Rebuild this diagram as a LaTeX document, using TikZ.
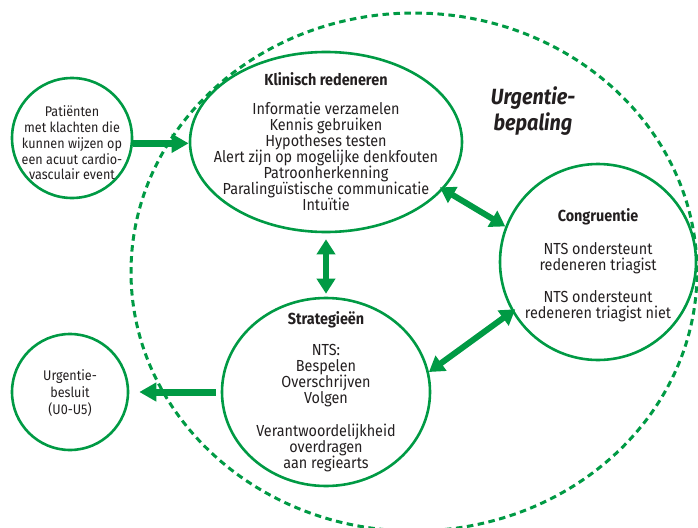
\documentclass[tikz,border=0pt]{standalone}
\usepackage{fontspec}
\setmainfont{Fira Sans}[FakeStretch=0.9]
\usepackage{tikz}
\usetikzlibrary{shapes.geometric}
\usetikzlibrary{arrows.meta}
\definecolor{boxgreen}{HTML}{009A44}
\definecolor{boxtext}{HTML}{231F20}

\begin{document}
\begin{tikzpicture}[x=1pt, y=-1pt,
every node/.style = {align=center, text=boxtext, inner sep=0pt,
  font=\fontsize{16}{16}\selectfont},
bubble/.style = {shape=ellipse, draw=boxgreen, line width=2.6pt},
region/.style = {shape=ellipse, draw=boxgreen, line width=3pt,
  dash pattern=on 6.5pt off 4.5pt, minimum width=566pt, minimum height=518pt},
oneway/.style = {draw=boxgreen, line width=7pt,
  -{Triangle[length=17pt, width=18pt]}},
twoway/.style = {draw=boxgreen, line width=6pt,
  {Triangle[length=15pt, width=18pt]}-{Triangle[length=15pt, width=18pt]}},
small/.style = {font=\fontsize{14}{15.75}\selectfont},
smaller/.style = {font=\fontsize{14}{17}\selectfont},
heading/.style = {font=\bfseries\itshape\fontsize{22}{26}\selectfont}
]
\useasboundingbox (0,0) rectangle (698,527);
\clip (0,0) rectangle (698,527);

\node (bepaling) [region] at (414,272) {};
\node (bepalingtext) [heading] at (533,111) {Urgentie-\\bepaling};

\node (pat) [bubble, minimum width=120pt, minimum height=120pt] at (72,138) {};
\node (urg) [bubble, minimum width=116pt, minimum height=116pt] at (70,392) {};
\node (klin) [bubble, minimum width=272pt, minimum height=180pt] at (326,142) {};
\node (strat) [bubble, minimum width=208pt, minimum height=188pt] at (326,392) {};
\node (congr) [bubble, minimum width=196pt, minimum height=196pt] at (598,262) {};

\node (pattext) [small] at (72,143) {Patiënten\\met klachten die\\kunnen wijzen op\\een acuut cardio-\\vasculair event};
\node (urgtext) [smaller] at (70,393) {Urgentie-\\besluit\\(U0-U5)};
\node (klintext) at (klin) {\textbf{Klinisch redeneren}\\[13pt]Informatie verzamelen\\Kennis gebruiken\\Hypotheses testen\\Alert zijn op mogelijke denkfouten\\Patroonherkenning\\Paralinguïstische communicatie\\Intuïtie};
\node (strattext) at (326,392) {\textbf{Strategieën}\\[15pt]NTS:\\Bespelen\\Overschrijven\\Volgen\\[17pt]Verantwoordelijkheid\\overdragen\\aan regiearts};
\node (congrtext) at (598,265) {\textbf{Congruentie}\\[17pt]NTS ondersteunt\\redeneren triagist\\[16pt]NTS ondersteunt\\redeneren triagist niet};

\draw[oneway] (pat.-5) -- (pat.-5 -| klin.west);
\draw[oneway, shorten <=5pt, shorten >=10pt] (strat.west) -- (urg.east);
\draw[twoway, shorten <=6pt, shorten >=3pt] (klin.south) -- (strat.north);
\draw[twoway, shorten <=-4pt] (klin.338) -- (congr.159);
\draw[twoway, shorten >=-4pt] (strat.11) -- (congr.210);

\end{tikzpicture}
\end{document}
